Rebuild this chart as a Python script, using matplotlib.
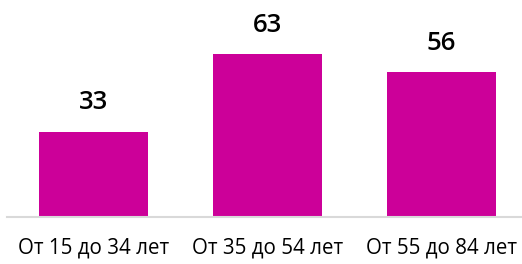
import matplotlib
matplotlib.use('Agg')
import matplotlib.pyplot as plt

categories = ['От 15 до 34 лет', 'От 35 до 54 лет', 'От 55 до 84 лет']
values = [33, 63, 56]

plt.rcParams['font.family'] = ['Open Sans', 'DejaVu Sans']

fig = plt.figure(figsize=(5.22, 2.64), dpi=100)
# axes runs slightly past the right edge, as in the reference
ax = fig.add_axes([6.5 / 522, 47 / 264, 522 / 522, 181 / 264])

x = range(len(categories))
bars = ax.bar(x, values, width=0.626, color='#cc0099', zorder=2)

for b, v in zip(bars, values):
    ax.text(b.get_x() + b.get_width() / 2, v + 6.3, str(v),
            ha='center', va='bottom', fontsize=18.5, fontweight='semibold')

ax.set_xlim(-0.5, 2.5)
ax.set_ylim(0, 70)
ax.set_yticks([])
ax.set_xticks(list(x))
ax.set_xticklabels(categories, fontsize=14.8)
ax.tick_params(axis='x', length=0, pad=15)
for s in ['top', 'right', 'left']:
    ax.spines[s].set_visible(False)
ax.spines['bottom'].set_color('#d9d9d9')
ax.spines['bottom'].set_linewidth(1.5)

fig.savefig('out.png', dpi=100)
